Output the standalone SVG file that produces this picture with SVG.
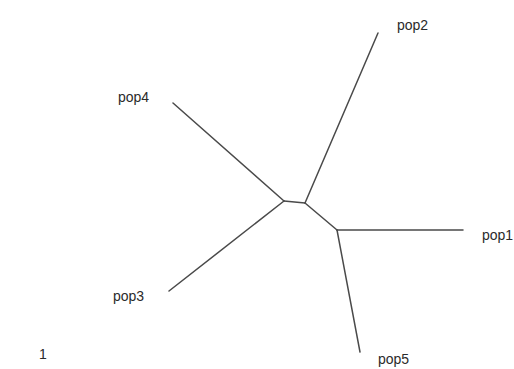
<svg xmlns="http://www.w3.org/2000/svg" width="514" height="369" viewBox="0 0 514 369">
<style>
.e{stroke:#4a4a4a;stroke-width:1.5;fill:none;stroke-linecap:round;stroke-linejoin:round}
.t{font-family:"Liberation Sans",Arial,sans-serif;font-size:14px;fill:#2a2a2a}
</style>
<rect width="514" height="369" fill="#ffffff"/>
<g id="connectors">
<polyline class="e" points="173,103 284,201"/>
<polyline class="e" points="169,291 284,201"/>
<polyline class="e" points="284,201 305,203"/>
<polyline class="e" points="305,203 378,33"/>
<polyline class="e" points="305,203 337,230"/>
<polyline class="e" points="337,230 463,230"/>
<polyline class="e" points="337,230 360,352"/>
</g>
<g id="pop2"><text class="t" x="397" y="30">pop2</text></g>
<g id="pop4"><text class="t" x="118" y="102">pop4</text></g>
<g id="pop3"><text class="t" x="113" y="301">pop3</text></g>
<g id="pop5"><text class="t" x="378" y="364">pop5</text></g>
<g id="pop1"><text class="t" x="482" y="240">pop1</text></g>
<g id="scale"><text class="t" x="39" y="359">1</text></g>
</svg>
